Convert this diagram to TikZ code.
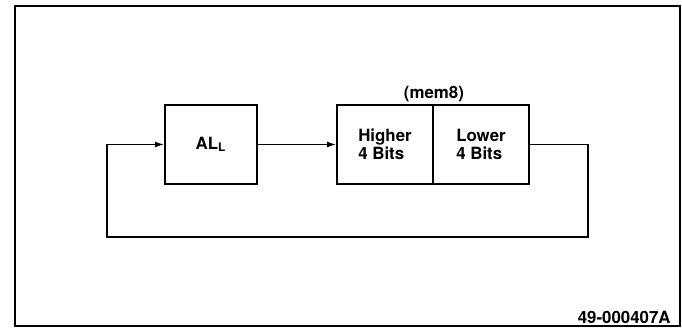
\documentclass[tikz,border=0pt]{standalone}
\usepackage{fontspec}
\setmainfont{TeX Gyre Heros}
\usetikzlibrary{arrows.meta}

\begin{document}
\begin{tikzpicture}[font=\fontsize{9.6}{10}\selectfont\bfseries,
  box/.style={draw,line width=1.1pt,inner sep=0pt,minimum height=1.58cm},
  wire/.style={line width=0.8pt},
  tip/.style={-{Latex[length=0.18cm,width=0.12cm]}}]

% Canvas: 682 x 328 px at 50 px per cm, y measured from the bottom
\useasboundingbox (0,0) rectangle (13.64,6.56);

% ── Frame ─────────────────────────────────────────────────────────────────────
\draw[line width=1.1pt] (0.30,0.04) rectangle (13.60,6.44);
\draw[line width=1.6pt] (0.30,0.04) -- (0.30,6.44);

% ── Boxes ─────────────────────────────────────────────────────────────────────
\node[box,minimum width=1.84cm] (al) at (4.22,3.67) {AL\textsubscript{L}};
\node[box,minimum width=1.92cm,align=left] (hi) at (7.70,3.67) {Higher\\4 Bits};
\node[box,minimum width=1.92cm,align=left] (lo) at (9.62,3.67) {Lower\\4 Bits};

\node[anchor=south,inner sep=1pt] (memlbl) at (hi.north east) {(mem8)};

% ── Connectors ────────────────────────────────────────────────────────────────
\coordinate (loopR) at (11.76,1.82);
\coordinate (loopL) at (2.14,1.82);

\draw[wire,tip] (al.east) -- (hi.west);
\draw[wire,tip] (lo.east) -| (loopR) -- (loopL) |- (al.west);

% ── Figure number ─────────────────────────────────────────────────────────────
\node[anchor=east,inner sep=0pt] (fignum) at (13.42,0.22) {49-000407A};

\end{tikzpicture}
\end{document}
